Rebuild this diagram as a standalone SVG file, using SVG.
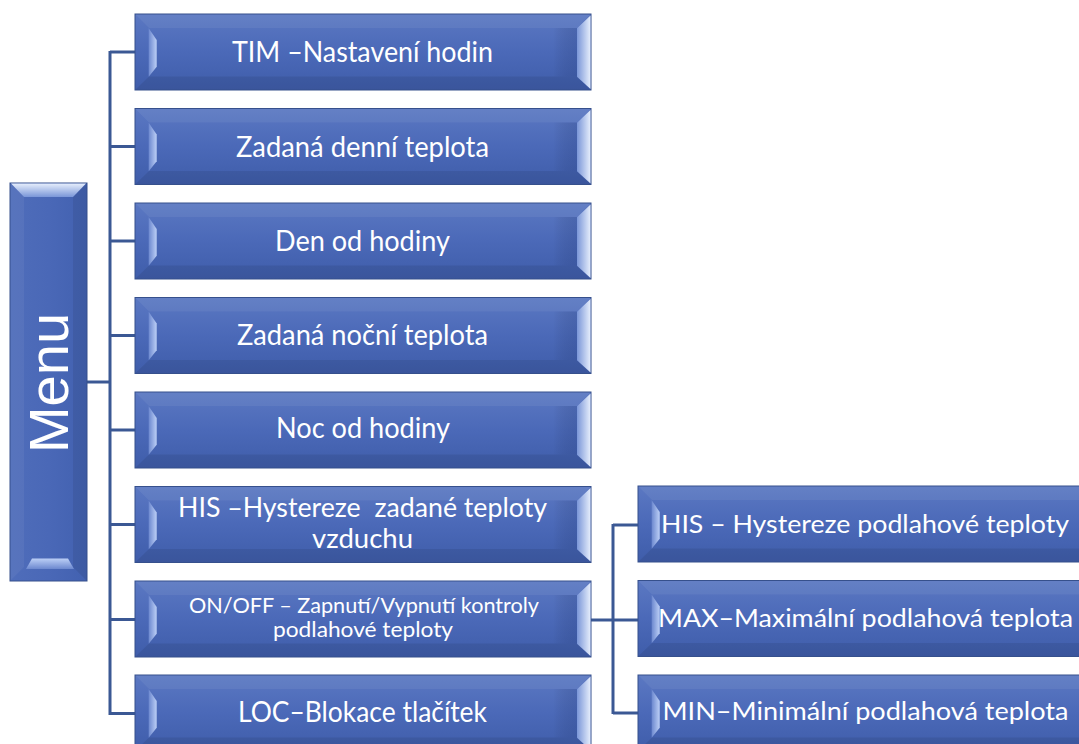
<svg xmlns="http://www.w3.org/2000/svg" xmlns:xlink="http://www.w3.org/1999/xlink" width="1079" height="744" viewBox="0 0 1079 744">
  <defs>
    <linearGradient id="gBody" x1="0" y1="0" x2="0" y2="1">
      <stop offset="0" stop-color="#5b78c2"/>
      <stop offset="0.5" stop-color="#4b69b8"/>
      <stop offset="1" stop-color="#3f5daa"/>
    </linearGradient>
    <linearGradient id="gMenu" x1="0" y1="0" x2="1" y2="0">
      <stop offset="0" stop-color="#4f6dba"/>
      <stop offset="0.5" stop-color="#4a68b7"/>
      <stop offset="1" stop-color="#4261b0"/>
    </linearGradient>
    <linearGradient id="gLeft" x1="0" y1="0" x2="1" y2="0">
      <stop offset="0" stop-color="#6c88cf"/>
      <stop offset="1" stop-color="#bccff6"/>
    </linearGradient>
    <linearGradient id="gRight" x1="0" y1="0" x2="1" y2="0">
      <stop offset="0" stop-color="#7a96d8"/>
      <stop offset="1" stop-color="#e6eefc"/>
    </linearGradient>
    <linearGradient id="gTop" x1="0" y1="0" x2="0" y2="1">
      <stop offset="0" stop-color="#e6eefc"/>
      <stop offset="1" stop-color="#7a96d8"/>
    </linearGradient>
    <linearGradient id="gBot" x1="0" y1="1" x2="0" y2="0">
      <stop offset="0" stop-color="#6c88cf"/>
      <stop offset="1" stop-color="#bccff6"/>
    </linearGradient>
    <linearGradient id="gShade" x1="0" y1="0" x2="1" y2="0">
      <stop offset="0" stop-color="#000" stop-opacity="0"/>
      <stop offset="1" stop-color="#1a2f66" stop-opacity="0.18"/>
    </linearGradient>
    <g id="box">
      <rect x="0" y="0" width="456" height="76" fill="url(#gBody)" stroke="#36508c" stroke-width="1"/>
      <polygon points="0.5,0.5 455.5,0.5 442,14 14,14" fill="#ffffff" fill-opacity="0.06"/>
      <polygon points="0.5,75.5 455.5,75.5 442,62.5 14,62.5" fill="#000" fill-opacity="0.08"/>
      <rect x="418" y="14" width="24" height="48.5" fill="url(#gShade)"/>
      <polygon points="13.7,14.3 21.7,26 21.7,52.7 13.7,62.7" fill="url(#gLeft)"/>
      <polygon points="455.5,1.5 442,14.3 442,62.7 455.5,75" fill="url(#gRight)"/>
    </g>
    <g id="boxR">
      <rect x="0" y="0" width="446" height="76" fill="url(#gBody)" stroke="#36508c" stroke-width="1"/>
      <polygon points="0.5,0.5 446,0.5 446,14 14,14" fill="#ffffff" fill-opacity="0.06"/>
      <polygon points="0.5,75.5 446,75.5 446,62.5 14,62.5" fill="#000" fill-opacity="0.08"/>
      <polygon points="13.7,14.3 21.7,26 21.7,52.7 13.7,62.7" fill="url(#gLeft)"/>
    </g>
    <style>
      .c { fill: none; stroke: #3b5894; stroke-width: 3; }
      .t { font-family: Lato, "Liberation Sans", sans-serif; fill: #ffffff; text-anchor: middle; }
      .m { font-family: "Liberation Sans", Arial, sans-serif; font-size: 56px; }
      .s28 { font-size: 28px; }
      .s25 { font-size: 25px; }
      .s26 { font-size: 26px; }
      .s21 { font-size: 21px; }
    </style>
  </defs>
  <rect width="1079" height="744" fill="#ffffff"/>

  <g id="connectors">
    <path class="c" d="M87,382 H110"/>
    <path class="c" d="M110,51 V715"/>
    <path class="c" d="M110,52 H136"/>
    <path class="c" d="M110,146.5 H136"/>
    <path class="c" d="M110,241 H136"/>
    <path class="c" d="M110,335.5 H136"/>
    <path class="c" d="M110,430 H136"/>
    <path class="c" d="M110,524.5 H136"/>
    <path class="c" d="M110,619.5 H136"/>
    <path class="c" d="M110,713.5 H136"/>
    <path class="c" d="M589,620 H613"/>
    <path class="c" d="M613,524 V714"/>
    <path class="c" d="M613,525 H639"/>
    <path class="c" d="M613,620 H639"/>
    <path class="c" d="M613,713 H639"/>
  </g>

  <g id="menu">
    <rect x="10" y="183" width="77" height="398" fill="url(#gMenu)" stroke="#36508c" stroke-width="1"/>
    <polygon points="10.5,183.5 10.5,580.5 24,567 24,197" fill="#ffffff" fill-opacity="0.05"/>
    <polygon points="86.5,183.5 86.5,580.5 73,567 73,197" fill="#000" fill-opacity="0.07"/>
    <polygon points="11,183.5 86,183.5 73,197 24,197" fill="url(#gTop)"/>
    <polygon points="32,558.5 68,558.5 74,569 26,569" fill="url(#gBot)"/>
    <text class="t m" transform="translate(68,383) rotate(-90)">Menu</text>
  </g>

  <g id="n1">
    <use xlink:href="#box" href="#box" x="135" y="14"/>
    <text class="t s28" x="362.5" y="61.7" textLength="261" lengthAdjust="spacingAndGlyphs">TIM –Nastavení hodin</text>
  </g>
  <g id="n2">
    <use xlink:href="#box" href="#box" x="135" y="108.5"/>
    <text class="t s28" x="362.5" y="156.5" textLength="253" lengthAdjust="spacingAndGlyphs">Zadaná denní teplota</text>
  </g>
  <g id="n3">
    <use xlink:href="#box" href="#box" x="135" y="203"/>
    <text class="t s28" x="362.5" y="250.5" textLength="175" lengthAdjust="spacingAndGlyphs">Den od hodiny</text>
  </g>
  <g id="n4">
    <use xlink:href="#box" href="#box" x="135" y="297.5"/>
    <text class="t s28" x="362.5" y="344.5" textLength="251" lengthAdjust="spacingAndGlyphs">Zadaná noční teplota</text>
  </g>
  <g id="n5">
    <use xlink:href="#box" href="#box" x="135" y="392"/>
    <text class="t s28" x="363" y="438" textLength="174" lengthAdjust="spacingAndGlyphs">Noc od hodiny</text>
  </g>
  <g id="n6">
    <use xlink:href="#box" href="#box" x="135" y="486.5"/>
    <text class="t s26" x="362.5" y="516.7" textLength="369" lengthAdjust="spacingAndGlyphs" xml:space="preserve">HIS –Hystereze  zadané teploty</text>
    <text class="t s26" x="362.5" y="548" textLength="101" lengthAdjust="spacingAndGlyphs">vzduchu</text>
  </g>
  <g id="n7">
    <use xlink:href="#box" href="#box" x="135" y="581"/>
    <text class="t s21" x="364" y="613.3" textLength="350" lengthAdjust="spacingAndGlyphs">ON/OFF – Zapnutí/Vypnutí kontroly</text>
    <text class="t s21" x="363" y="636.5" textLength="180" lengthAdjust="spacingAndGlyphs">podlahové teploty</text>
  </g>
  <g id="n8">
    <use xlink:href="#box" href="#box" x="135" y="675"/>
    <text class="t s28" x="362.5" y="722" textLength="249" lengthAdjust="spacingAndGlyphs">LOC–Blokace tlačítek</text>
  </g>

  <g id="r1">
    <use xlink:href="#boxR" href="#boxR" x="638" y="486"/>
    <text class="t s25" x="865" y="533" textLength="408" lengthAdjust="spacingAndGlyphs">HIS – Hystereze podlahové teploty</text>
  </g>
  <g id="r2">
    <use xlink:href="#boxR" href="#boxR" x="638" y="580.5"/>
    <text class="t s25" x="865.5" y="626.7" textLength="415" lengthAdjust="spacingAndGlyphs">MAX–Maximální podlahová teplota</text>
  </g>
  <g id="r3">
    <use xlink:href="#boxR" href="#boxR" x="638" y="675"/>
    <text class="t s25" x="865.5" y="720" textLength="406" lengthAdjust="spacingAndGlyphs">MIN–Minimální podlahová teplota</text>
  </g>
</svg>
